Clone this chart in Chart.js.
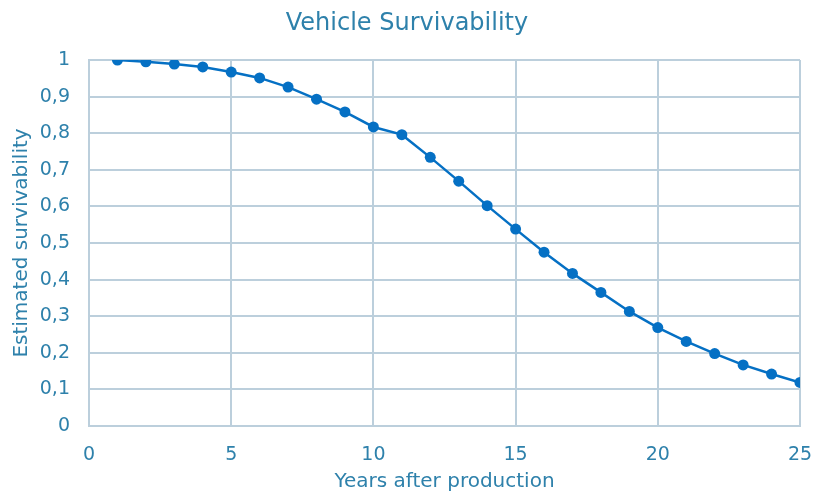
<!DOCTYPE html>
<html>
<head>
<meta charset="utf-8">
<script src="https://cdn.jsdelivr.net/npm/chart.js@4/dist/chart.umd.min.js"></script>
<style>
  html, body { margin: 0; padding: 0; background: #ffffff; }
  #wrap { width: 814px; height: 492px; position: relative; }
</style>
</head>
<body>
<div id="wrap"><canvas id="c" width="814" height="492"></canvas></div>
<script>
const years = [1,2,3,4,5,6,7,8,9,10,11,12,13,14,15,16,17,18,19,20,21,22,23,24,25];
const survivability = [1.000,0.995,0.989,0.981,0.967,0.951,0.926,0.893,0.858,0.817,0.796,0.734,0.669,0.602,0.538,0.475,0.417,0.365,0.313,0.269,0.231,0.198,0.167,0.142,0.119];
const chartTitle = 'Vehicle Survivability';
const xTitle = 'Years after production';
const yTitle = 'Estimated survivability';

const textColor = '#2e81ab';
const gridColor = '#bccfdc';
const lineColor = '#0570c4';
const fam = '"DejaVu Sans", Verdana, sans-serif';

new Chart(document.getElementById('c'), {
  type: 'line',
  data: {
    datasets: [{
      data: years.map((x, i) => ({ x: x, y: survivability[i] })),
      borderColor: lineColor,
      backgroundColor: lineColor,
      borderWidth: 2.5,
      pointRadius: 5.5,
      pointBackgroundColor: lineColor,
      pointBorderWidth: 0,
      tension: 0,
      fill: false
    }]
  },
  options: {
    responsive: false,
    animation: false,
    devicePixelRatio: 1,
    layout: { padding: { left: 0, right: 0, top: 0, bottom: 0 } },
    plugins: {
      legend: { display: false },
      tooltip: { enabled: false },
      title: {
        display: true,
        text: chartTitle,
        color: textColor,
        font: { family: fam, size: 24, weight: 'normal' },
        padding: { top: 9, bottom: 22.2 }
      }
    },
    scales: {
      x: {
        type: 'linear',
        min: 0, max: 25,
        afterFit: (s) => { s.height = 66; s.paddingLeft = 0; s.paddingRight = 0; },
        ticks: { stepSize: 5, color: textColor, font: { family: fam, size: 19 }, padding: 18 },
        grid: { color: gridColor, lineWidth: 2, drawTicks: false },
        border: { color: gridColor, width: 2 },
        title: { display: true, text: xTitle, color: textColor, font: { family: fam, size: 20 }, padding: { top: 0, bottom: -2 } }
      },
      y: {
        min: 0, max: 1,
        afterFit: (s) => { s.width = 89; s.paddingTop = 0; s.paddingBottom = 0; },
        ticks: {
          stepSize: 0.1, color: textColor, font: { family: fam, size: 19 }, padding: 19,
          callback: (v) => Number(v.toFixed(1)).toString().replace('.', ',')
        },
        grid: { color: gridColor, lineWidth: 2, drawTicks: false },
        border: { color: gridColor, width: 2 },
        title: { display: true, text: yTitle, color: textColor, font: { family: fam, size: 20 }, padding: { top: 10, bottom: 0 } }
      },
      yRight: {
        position: 'right',
        min: 0, max: 1,
        afterFit: (s) => { s.width = 14; s.paddingTop = 0; s.paddingBottom = 0; },
        ticks: { display: false },
        grid: { display: false, drawTicks: false },
        border: { display: false }
      }
    }
  }
});
</script>
</body>
</html>
